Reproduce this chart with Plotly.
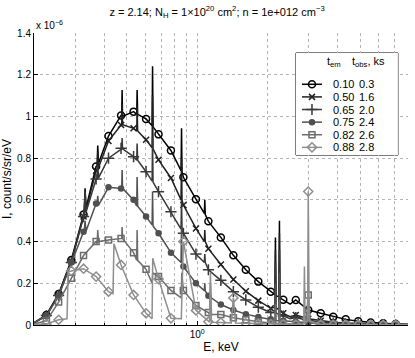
import math
import plotly.graph_objects as go

# energies (keV) where the markers sit
grid_e = [0.226, 0.255, 0.289, 0.326, 0.369, 0.417, 0.472, 0.534, 0.604, 0.683,
          0.772, 0.873, 0.988, 1.117, 1.263, 1.429, 1.616, 1.828, 2.067, 2.338,
          2.645, 2.991, 3.383, 3.826, 4.327, 4.894, 5.536, 6.261, 7.081]

# intensities at the marker energies, units of 1e-6 count/s/sr/eV
s1_marks = [0.048, 0.149, 0.312, 0.53, 0.76, 0.906, 1.005, 1.023, 0.988, 0.914,
            0.837, 0.708, 0.603, 0.497, 0.42, 0.334, 0.265, 0.208, 0.159, 0.121,
            0.12, 0.072, 0.056, 0.04, 0.027, 0.018, 0.012, 0.008, 0.005]
s2_marks = [0.046, 0.145, 0.305, 0.52, 0.74, 0.882, 0.959, 0.943, 0.888, 0.792,
            0.705, 0.575, 0.463, 0.366, 0.29, 0.218, 0.162, 0.117, 0.08, 0.056,
            0.048, 0.03, 0.02, 0.013, 0.009, 0.006, 0.004, 0.003, 0.002]
s3_marks = [0.045, 0.142, 0.30, 0.52, 0.70, 0.80, 0.847, 0.807, 0.735, 0.639,
            0.543, 0.44, 0.34, 0.265, 0.214, 0.16, 0.12, 0.085, 0.06, 0.043,
            0.036, 0.022, 0.014, 0.009, 0.006, 0.004, 0.003, 0.002, 0.001]
s4_marks = [0.045, 0.14, 0.30, 0.447, 0.583, 0.66, 0.655, 0.60, 0.52, 0.44,
            0.347, 0.28, 0.2, 0.14, 0.098, 0.072, 0.052, 0.038, 0.027, 0.02,
            0.015, 0.01, 0.006, 0.004, 0.003, 0.002, 0.001, 0.001, 0.001]
s5_marks = [0.02, 0.11, 0.224, 0.333, 0.40, 0.408, 0.415, 0.347, 0.267, 0.232,
            0.166, 0.166, 0.094, 0.06, 0.05, 0.035, 0.025, 0.016, 0.01, 0.007,
            0.005, 0.144, 0.004, 0.003, 0.002, 0.001, 0.001, 0.001, 0.001]
s6_marks = [0.005, 0.025, 0.259, 0.27, 0.232, 0.16, 0.288, 0.144, 0.056, 0.22,
            0.032, 0.40, 0.07, 0.016, 0.012, 0.13, 0.008, 0.006, 0.004, 0.003,
            0.002, 0.64, 0.002, 0.001, 0.001, 0.001, 0.001, 0.001, 0.001]

# line-only points: emission lines and edges between the markers
s1_extra = [(0.2, 0.01), (0.328, 0.535), (0.331, 0.655), (0.334, 0.56),
            (0.373, 0.765), (0.375, 0.86), (0.378, 0.775),
            (0.475, 1.0), (0.477, 1.127), (0.479, 1.0),
            (0.551, 1.01), (0.553, 1.127), (0.556, 1.01),
            (0.641, 0.955), (0.644, 1.24), (0.647, 0.95),
            (0.853, 0.74), (0.857, 0.943), (0.861, 0.735),
            (1.073, 0.535), (1.078, 0.6), (1.083, 0.53),
            (2.155, 0.145), (2.164, 0.42), (2.173, 0.14),
            (2.242, 0.135), (2.251, 0.50), (2.26, 0.13),
            (2.5, 0.10), (8.0, 0.003)]
s2_extra = [(0.2, 0.01), (0.328, 0.525), (0.331, 0.64), (0.334, 0.55),
            (0.373, 0.745), (0.375, 0.83), (0.378, 0.755),
            (0.475, 0.955), (0.477, 1.06), (0.479, 0.96),
            (0.551, 0.93), (0.553, 1.05), (0.556, 0.93),
            (0.641, 0.85), (0.644, 1.1), (0.647, 0.845),
            (0.853, 0.6), (0.857, 0.8), (0.861, 0.6),
            (1.073, 0.40), (1.078, 0.455), (1.083, 0.40),
            (2.155, 0.085), (2.164, 0.36), (2.173, 0.083),
            (2.242, 0.072), (2.251, 0.44), (2.26, 0.07),
            (2.5, 0.04), (8.0, 0.002)]
s3_extra = [(0.2, 0.01), (0.328, 0.52), (0.331, 0.64), (0.334, 0.54),
            (0.373, 0.70), (0.375, 0.767), (0.378, 0.705),
            (0.475, 0.845), (0.477, 0.896), (0.479, 0.845),
            (0.551, 0.79), (0.553, 0.87), (0.556, 0.79),
            (0.641, 0.69), (0.644, 0.9), (0.647, 0.685),
            (0.853, 0.46), (0.857, 0.6), (0.861, 0.46),
            (1.073, 0.30), (1.078, 0.34), (1.083, 0.30),
            (2.155, 0.06), (2.164, 0.30), (2.173, 0.058),
            (2.242, 0.05), (2.251, 0.36), (2.26, 0.05),
            (2.5, 0.03), (8.0, 0.001)]
s4_extra = [(0.2, 0.01), (0.328, 0.44), (0.331, 0.5), (0.334, 0.45),
            (0.373, 0.57), (0.375, 0.62), (0.378, 0.575),
            (0.475, 0.655), (0.477, 0.743), (0.479, 0.655),
            (0.551, 0.57), (0.553, 0.71), (0.556, 0.57),
            (0.641, 0.48), (0.644, 0.64), (0.647, 0.475),
            (0.853, 0.30), (0.857, 0.47), (0.861, 0.30),
            (1.073, 0.165), (1.078, 0.2), (1.083, 0.163),
            (2.155, 0.022), (2.164, 0.2), (2.173, 0.022),
            (2.242, 0.02), (2.251, 0.25), (2.26, 0.02),
            (8.0, 0.001)]
s5_extra = [(0.2, 0.005), (0.373, 0.39), (0.375, 0.455), (0.378, 0.40),
            (0.475, 0.415), (0.477, 0.47), (0.479, 0.415),
            (0.551, 0.31), (0.553, 0.455), (0.556, 0.31),
            (0.641, 0.2), (0.645, 0.25),
            (0.855, 0.13), (0.859, 0.25),
            (1.13, 0.05), (1.14, 0.2), (1.15, 0.05),
            (2.155, 0.009), (2.164, 0.1), (2.173, 0.008),
            (2.242, 0.007), (2.251, 0.12), (2.26, 0.007),
            (2.93, 0.01), (3.06, 0.01), (8.0, 0.001)]
s6_extra = [(0.2, 0.002), (0.277, 0.03), (0.280, 0.255),
            (0.436, 0.15), (0.440, 0.39),
            (0.641, 0.03), (0.645, 0.32),
            (0.855, 0.03),
            (1.13, 0.014), (1.14, 0.25), (1.15, 0.013),
            (1.40, 0.01), (1.46, 0.01),
            (2.86, 0.005), (2.88, 0.28), (2.90, 0.01),
            (2.97, 0.02), (3.02, 0.02), (8.0, 0.001)]

t_em = ["0.10", "0.50", "0.65", "0.75", "0.82", "0.88"]
t_obs = ["0.3", "1.6", "2.0", "2.4", "2.6", "2.8"]

colors = ["#000000", "#202020", "#383838", "#505050", "#6c6c6c", "#8e8e8e"]
symbols = ["circle-open", "x-thin-open", "cross-thin-open", "circle", "square-open", "diamond-open"]
sizes = [7, 6, 8, 5, 6, 7]

marks = [s1_marks, s2_marks, s3_marks, s4_marks, s5_marks, s6_marks]
extras = [s1_extra, s2_extra, s3_extra, s4_extra, s5_extra, s6_extra]

fig = go.Figure()
for i in range(6):
    pts = sorted(list(zip(grid_e, marks[i])) + extras[i])
    fig.add_trace(go.Scatter(x=[p[0] for p in pts], y=[p[1] for p in pts], mode="lines",
                             line=dict(color=colors[i], width=1.5),
                             showlegend=False, hoverinfo="skip"))
    fig.add_trace(go.Scatter(x=grid_e, y=marks[i], mode="markers",
                             marker=dict(symbol=symbols[i], size=sizes[i], color=colors[i],
                                         line=dict(color=colors[i], width=1.5)),
                             showlegend=False))

# legend drawn in its own small axis: row i, sample line from 6 to 26, text after
for i in range(6):
    fig.add_trace(go.Scatter(x=[6, 16, 26], y=[i, i, i], mode="lines",
                             line=dict(color=colors[i], width=1.5),
                             xaxis="x2", yaxis="y2", showlegend=False, hoverinfo="skip"))
    fig.add_trace(go.Scatter(x=[16], y=[i], mode="markers",
                             marker=dict(symbol=symbols[i], size=sizes[i], color=colors[i],
                                         line=dict(color=colors[i], width=1.5)),
                             xaxis="x2", yaxis="y2", showlegend=False, hoverinfo="skip"))

leg_notes = []
for i in range(6):
    leg_notes.append(dict(text=t_em[i], x=35, y=i, xref="x2", yref="y2",
                          xanchor="left", yanchor="middle", showarrow=False,
                          font=dict(size=11)))
    leg_notes.append(dict(text=t_obs[i], x=61, y=i, xref="x2", yref="y2",
                          xanchor="left", yanchor="middle", showarrow=False,
                          font=dict(size=11)))
leg_notes.append(dict(text="t<sub>em</sub>", x=29, y=-1.75, xref="x2", yref="y2",
                      xanchor="left", yanchor="middle", showarrow=False, font=dict(size=11)))
leg_notes.append(dict(text="t<sub>obs</sub>, ks", x=54, y=-1.75, xref="x2", yref="y2",
                      xanchor="left", yanchor="middle", showarrow=False, font=dict(size=11)))

x_minor = [0.3, 0.4, 0.5, 0.6, 0.7, 0.8, 0.9, 2, 3, 4, 5, 6, 7, 8]
y_ticks = [0, 0.2, 0.4, 0.6, 0.8, 1.0, 1.2, 1.4]
y_text = ["0", "0.2", "0.4", "0.6", "0.8", "1", "1.2", "1.4"]

grid_col = "#b4b4b4"
fig.update_layout(
    width=415, height=358,
    margin=dict(l=34, r=7, t=33, b=33),
    plot_bgcolor="white", paper_bgcolor="white",
    font=dict(family="Liberation Sans, Arial, sans-serif", size=10, color="black"),
    showlegend=False,
    title=dict(text="z = 2.14; N<sub>H</sub> = 1\u00d710<sup>20</sup> cm<sup>2</sup>; n = 1e+012 cm<sup>\u22123</sup>",
               x=0.523, xanchor="center", y=1 - 12 / 358, yanchor="middle",
               font=dict(size=11)),
    xaxis=dict(type="log", range=[math.log10(0.2), math.log10(8)],
               tickvals=[1], ticktext=["10<sup>0</sup>"],
               showgrid=True, gridcolor=grid_col, griddash="dot", gridwidth=1,
               minor=dict(tickvals=x_minor, showgrid=True, gridcolor=grid_col,
                          griddash="dot", gridwidth=1, ticks="inside", ticklen=2,
                          tickcolor="black"),
               showline=True, linecolor="black", linewidth=1,
               ticks="inside", ticklen=4, tickcolor="black",
               zeroline=False, automargin=False,
               title=dict(text="E, keV", standoff=2)),
    yaxis=dict(range=[0, 1.4], tickvals=y_ticks, ticktext=y_text,
               showgrid=True, gridcolor=grid_col, griddash="dot", gridwidth=1,
               showline=True, linecolor="black", linewidth=1,
               ticks="inside", ticklen=4, tickcolor="black",
               zeroline=False, automargin=False,
               title=dict(text="I, count/s/sr/eV", standoff=2)),
    xaxis2=dict(domain=[0.7005, 0.973], range=[0, 102], anchor="y2",
                visible=False, fixedrange=True),
    yaxis2=dict(domain=[0.582, 0.9315], range=[5.61, -2.48], anchor="x2",
                visible=False, fixedrange=True),
    shapes=[dict(type="rect", xref="x2 domain", yref="y2 domain", x0=0, x1=1, y0=0, y1=1,
                 line=dict(color="black", width=1), fillcolor="white", layer="below")],
    annotations=[dict(text="x 10<sup>\u22126</sup>", xref="paper", yref="paper",
                      x=0.0, y=1.0, xanchor="left", yanchor="bottom",
                      showarrow=False, font=dict(size=10))] + leg_notes,
)

fig.write_html("out.html", config={"displayModeBar": False},
               post_script="document.body.style.margin='0px';")
